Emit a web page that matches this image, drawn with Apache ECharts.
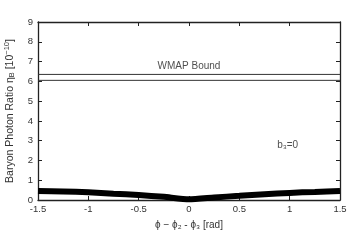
<!DOCTYPE html>
<html><head><meta charset="utf-8">
<script src="https://cdn.jsdelivr.net/npm/echarts@6/dist/echarts.min.js"></script>
<style>html,body{margin:0;padding:0;background:#fff}#c{width:350px;height:245px}</style>
</head><body><div id="c"></div>
<script>
const phi = [-1.5, -1.25, -1, -0.75, -0.5, -0.25, 0, 0.25, 0.5, 0.75, 1, 1.25, 1.5];
const eta = [0.46, 0.43, 0.39, 0.32, 0.25, 0.16, 0.04, 0.13, 0.21, 0.29, 0.36, 0.41, 0.46];
const wmapUpper = 6.35;
const wmapLower = 6.05;
const xRange = [-1.5, 1.5];
const wmapLabel = {text: 'WMAP Bound', x: 0, y: 6.78};
const b3Label = {text: 'b₃=0', x: 0.98, y: 2.75};

const font = 'Liberation Sans, Arial, sans-serif';
const tc = '#333';
const chart = echarts.init(document.getElementById('c'), null, {renderer: 'canvas'});
const axisCommon = () => ({
  axisLine: {show: true, onZero: false, lineStyle: {color: '#222', width: 1.3}},
  axisTick: {show: true, inside: true, length: 4, lineStyle: {color: '#222', width: 1}},
  splitLine: {show: false}
});
chart.setOption({
  animation: false,
  grid: {left: 38, right: 10, top: 22, bottom: 45, containLabel: false, outerBoundsMode: 'none'},
  xAxis: [
    Object.assign({type: 'value', min: -1.5, max: 1.5, interval: 0.5, position: 'bottom',
      axisLabel: {color: tc, fontSize: 9.5, fontFamily: font, margin: 4},
      name: 'ϕ − ϕ₂ - ϕ₃ [rad]', nameLocation: 'middle', nameGap: 20,
      nameTextStyle: {color: tc, fontSize: 10, fontFamily: font}}, axisCommon()),
    Object.assign({type: 'value', min: -1.5, max: 1.5, interval: 0.5, position: 'top',
      axisLabel: {show: false}}, axisCommon())
  ],
  yAxis: [
    Object.assign({type: 'value', min: 0, max: 9, interval: 1, position: 'left',
      axisLabel: {color: tc, fontSize: 9.5, fontFamily: font, margin: 5},
      name: '{a|Baryon Photon Ratio η}{s|B}{a| [10}{p|−10}{a|]}', nameLocation: 'middle', nameGap: 21,
      nameTextStyle: {color: tc, fontSize: 10, fontFamily: font,
        rich: {a: {fontSize: 10.5, fontFamily: font, color: tc},
               s: {fontSize: 7.5, fontFamily: font, color: tc, padding: [4, 0, 0, 0]},
               p: {fontSize: 7.5, fontFamily: font, color: tc, padding: [0, 0, 6, 0]}}}}, axisCommon()),
    Object.assign({type: 'value', min: 0, max: 9, interval: 1, position: 'right',
      axisLabel: {show: false}}, axisCommon())
  ],
  series: [
    {type: 'line', data: phi.map((p, i) => [p, eta[i]]), symbol: 'none', smooth: 0.2,
     lineStyle: {color: '#000', width: 6}, clip: true, z: 3},
    {type: 'line', data: xRange.map(x => [x, wmapUpper]), symbol: 'none',
     lineStyle: {color: '#333', width: 1}},
    {type: 'line', data: xRange.map(x => [x, wmapLower]), symbol: 'none',
     lineStyle: {color: '#333', width: 1}},
    {type: 'scatter', symbolSize: 0, silent: true,
     data: [[wmapLabel.x, wmapLabel.y, wmapLabel.text], [b3Label.x, b3Label.y, b3Label.text]],
     label: {show: true, position: 'inside', formatter: p => p.data[2], color: '#222', fontSize: 10, fontFamily: font}}
  ]
});
</script></body></html>
